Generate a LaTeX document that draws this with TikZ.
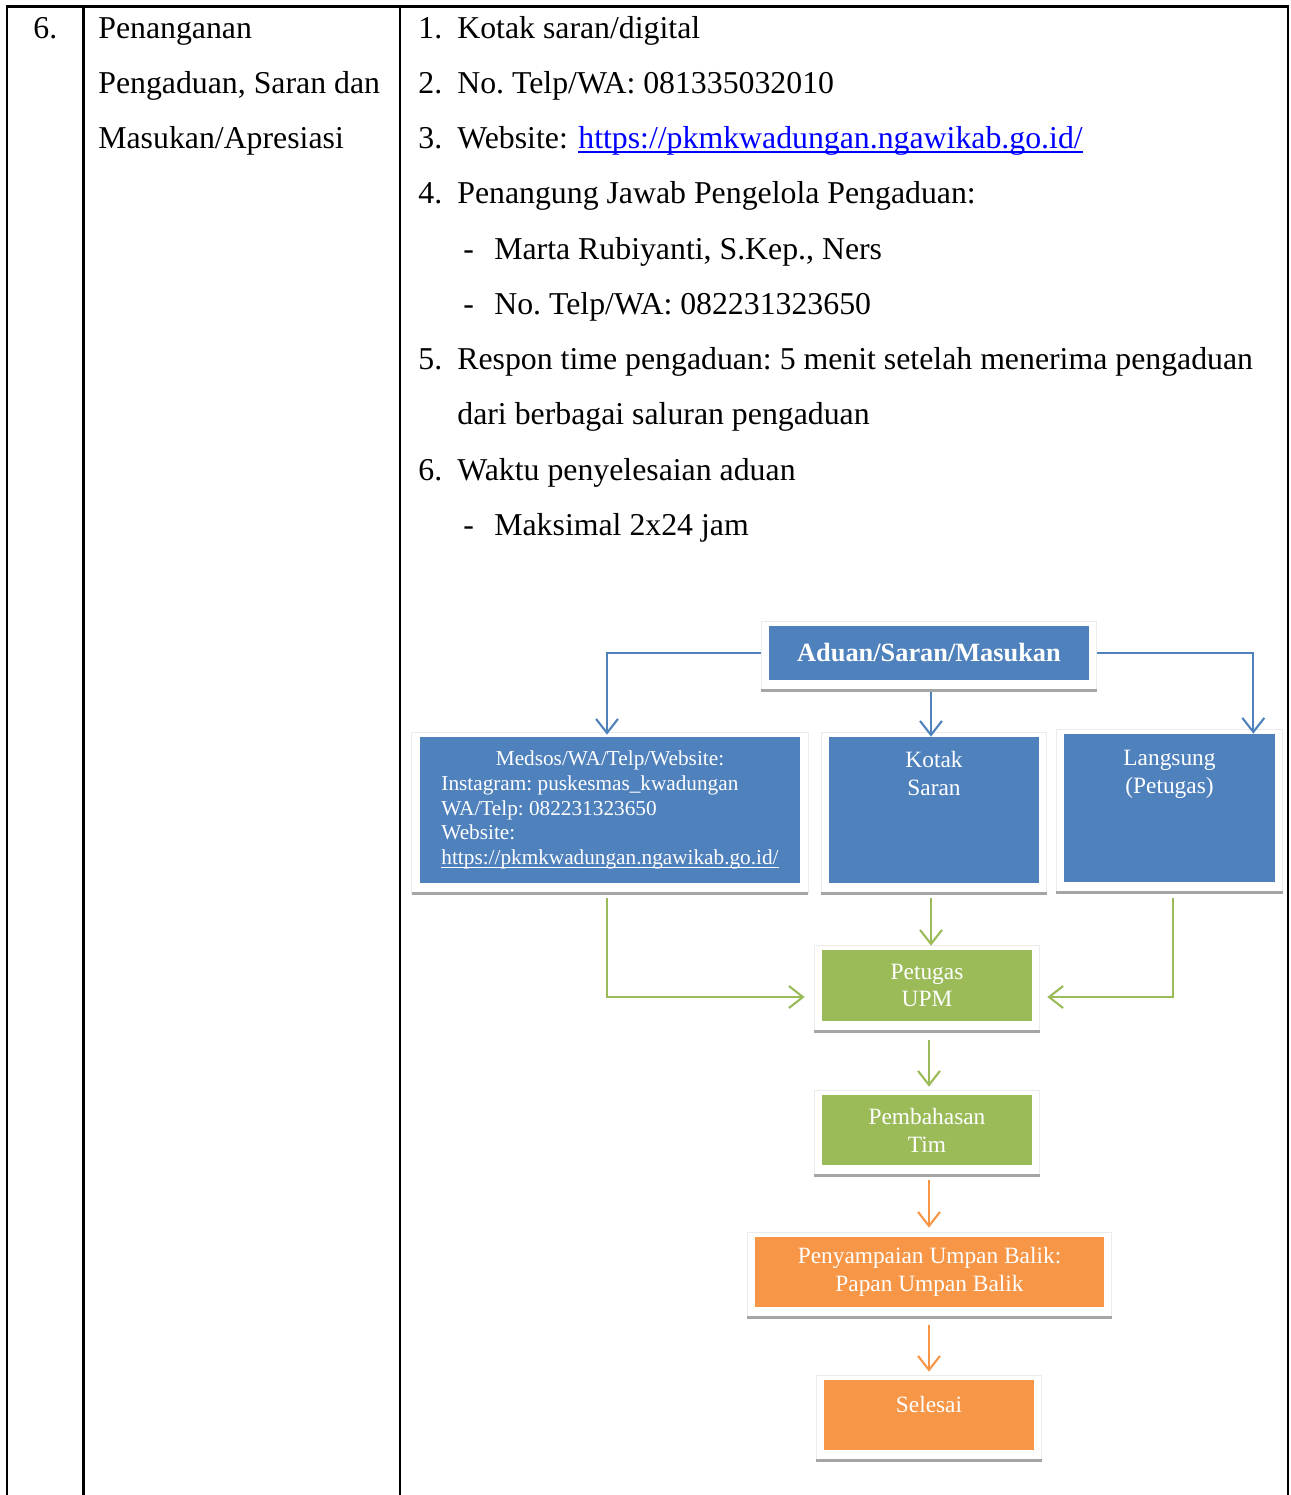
\documentclass[tikz,border=0pt]{standalone}
\usepackage{fontspec}
\setmainfont{Liberation Serif}
\usetikzlibrary{arrows.meta,calc,backgrounds}
\frenchspacing

\definecolor{boxblue}{HTML}{4F81BD}
\definecolor{boxgreen}{HTML}{9BBB59}
\definecolor{boxorange}{HTML}{F79646}
\definecolor{barshadow}{HTML}{A5A5A5}
\definecolor{framegray}{HTML}{EBEBEB}
\definecolor{linkblue}{HTML}{0000FF}

\tikzset{
  body/.style={anchor=base west, inner sep=0pt, font=\fontsize{18.1}{31}\selectfont},
  tableline/.style={line width=1.4pt},
  flowbox/.style={inner sep=0pt, text=white, align=center, font=\fontsize{13.3}{15.8}\selectfont},
  bluebox/.style={flowbox, fill=boxblue},
  greenbox/.style={flowbox, fill=boxgreen},
  orangebox/.style={flowbox, fill=boxorange},
  flowarrow/.style={line width=1.2pt, -{Straight Barb[length=8pt,width=12.5pt]}},
  bluearrow/.style={flowarrow, draw=boxblue},
  greenarrow/.style={flowarrow, draw=boxgreen},
  orangearrow/.style={flowarrow, draw=boxorange}
}

\begin{document}
\begin{tikzpicture}[x=0.02cm, y=-0.02cm]
\useasboundingbox (0,0) rectangle (1291,1495);

% table rules
\draw[tableline] (7,1495) -- (7,6.5) -- (1288,6.5) -- (1288,1495);
\draw[tableline] (83.5,6.5) -- (83.5,1495);
\draw[tableline] (400,6.5) -- (400,1495);

% first and second column
\node[body] (nomor) at (33,38) {6.};
\node[body] (judul1) at (98,38) {Penanganan};
\node[body] (judul2) at (98,93) {Pengaduan, Saran dan};
\node[body] (judul3) at (98,148) {Masukan/Apresiasi};

% third column
\node[body] (n1) at (418,38) {1.};
\node[body] (isi1) at (457,38) {Kotak saran/digital};
\node[body] (n2) at (418,93) {2.};
\node[body] (isi2) at (457,93) {No. Telp/WA: 081335032010};
\node[body] (n3) at (418,148) {3.};
\node[body] (isi3) at (457,148) {Website:};
\node[body, text=linkblue] (link) at (578,148) {https://pkmkwadungan.ngawikab.go.id/};
\draw[linkblue, line width=0.9pt] ($(link.base west)+(0,4)$) -- ($(link.base east)+(0,4)$);
\node[body] (n4) at (418,203) {4.};
\node[body] (isi4) at (457,203) {Penangung Jawab Pengelola Pengaduan:};
\node[body] (d1) at (463,259) {-};
\node[body] (sub1) at (494,259) {Marta Rubiyanti, S.Kep., Ners};
\node[body] (d2) at (463,314) {-};
\node[body] (sub2) at (494,314) {No. Telp/WA: 082231323650};
\node[body] (n5) at (418,369) {5.};
\node[body] (isi5) at (457,369) {Respon time pengaduan: 5 menit setelah menerima pengaduan};
\node[body] (isi5b) at (457,424) {dari berbagai saluran pengaduan};
\node[body] (n6) at (418,480) {6.};
\node[body] (isi6) at (457,480) {Waktu penyelesaian aduan};
\node[body] (d3) at (463,535) {-};
\node[body] (sub3) at (494,535) {Maksimal 2x24 jam};

% flow chart
\node[bluebox, minimum width=6.4cm, minimum height=1.08cm,
  font=\bfseries\fontsize{15}{18}\selectfont] (aduan) at (929,653) {Aduan/Saran/Masukan};
\node[bluebox, minimum width=7.62cm, minimum height=2.92cm,
  font=\fontsize{12.1}{14.2}\selectfont] (medsos) at (610,810)
  {\begin{tabular}{@{}l@{}}
   \multicolumn{1}{@{}c@{}}{Medsos/WA/Telp/Website:}\\
   Instagram: puskesmas\_kwadungan\\
   WA/Telp: 082231323650\\
   Website:\\
   \underline{\smash{https://pkmkwadungan.ngawikab.go.id/}}
   \end{tabular}};
\node[bluebox, minimum width=4.2cm, minimum height=2.92cm] (kotak) at (934,810) {};
\node[flowbox, anchor=north] (kotaktxt) at ($(kotak.north)+(0,14)$) {Kotak\\Saran};
\node[bluebox, minimum width=4.22cm, minimum height=2.96cm] (langsung) at (1169.5,808) {};
\node[flowbox, anchor=north] (langsungtxt) at ($(langsung.north)+(0,16)$) {Langsung\\(Petugas)};
\node[greenbox, minimum width=4.2cm, minimum height=1.42cm] (upm) at (927,985.5) {Petugas\\UPM};
\node[greenbox, minimum width=4.2cm, minimum height=1.4cm] (bahas) at (927,1130) {Pembahasan\\Tim};
\node[orangebox, minimum width=6.98cm, minimum height=1.4cm] (umpan) at (929.5,1272)
  {Penyampaian Umpan Balik:\\Papan Umpan Balik};
\node[orangebox, minimum width=4.2cm, minimum height=1.4cm] (selesai) at (929,1415) {};
\node[flowbox, anchor=north] (selesaitxt) at ($(selesai.north)+(0,16)$) {Selesai};

% white frames with grey bar underneath
\begin{scope}[on background layer]
\foreach \b in {aduan,medsos,kotak,langsung,upm,bahas,umpan,selesai}{
  \draw[framegray, line width=0.6pt, fill=white] ($(\b.north west)+(-7.5,-4)$) rectangle ($(\b.south east)+(7.5,10)$);
  \draw[barshadow, line width=1.7pt] ($(\b.south west)+(-7.5,10)$) -- ($(\b.south east)+(7.5,10)$);
}
\end{scope}

% connectors
\draw[bluearrow] ($(aduan.west)+(-7.5,0)$) -| ($(medsos.north)+(-3,-2)$);
\draw[bluearrow] ($(aduan.east)+(7.5,0)$) -| ($(langsung.north east)+(-22,0)$);
\draw[bluearrow] ($(aduan.south)+(2,12)$) -- ($(aduan.south |- kotak.north)+(2,0)$);
\draw[greenarrow] ($(medsos.south)+(-3,15)$) |- ($(upm.west)+(-17,11.5)$);
\draw[greenarrow] ($(kotak.south)+(-3,15)$) -- ($(upm.north)+(4,-4)$);
\draw[greenarrow] ($(langsung.south)+(3.5,16)$) |- ($(upm.east)+(15,11.5)$);
\draw[greenarrow] ($(upm.south)+(2,19)$) -- ($(bahas.north)+(2,-8)$);
\draw[orangearrow] ($(bahas.south)+(2,15)$) -- ($(umpan.north)+(-0.5,-9)$);
\draw[orangearrow] ($(umpan.south)+(-0.5,18)$) -- ($(selesai.north)+(0,-8)$);
\end{tikzpicture}
\end{document}
